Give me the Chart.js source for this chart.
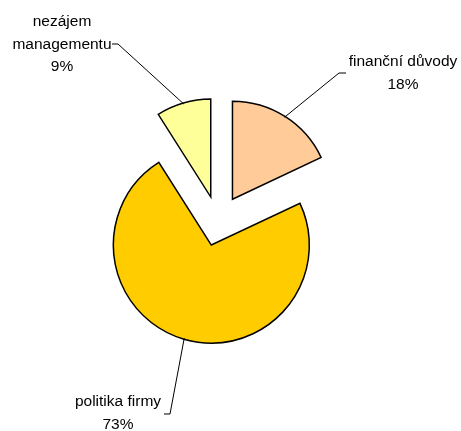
<!DOCTYPE html>
<html>
<head>
<meta charset="utf-8">
<script src="https://cdn.jsdelivr.net/npm/chart.js@4/dist/chart.umd.min.js"></script>
<style>
  html, body { margin: 0; padding: 0; background: #fff; }
  #wrap { width: 461px; height: 431px; }
</style>
</head>
<body>
<div id="wrap"><canvas id="pie"></canvas></div>
<script>
// Reasons, share in percent
const labels = ['finanční důvody', 'politika firmy', 'nezájem managementu'];
const values = [18, 73, 9];
const labelLines = [['finanční důvody', '18%'], ['politika firmy', '73%'], ['nezájem', 'managementu', '9%']];

const colors = ['#FFCC99', '#FFCC00', '#FFFF99'];
const explode = [27, 24, 26];

// where each label block sits and where its leader line bends
const labelStyle = [
  { x: 403, y: 62, elbow: [[346, 73], [339, 73]] },
  { x: 118, y: 402, elbow: [[164, 414], [170, 414]] },
  { x: 62, y: 22, elbow: [[112, 44], [118, 44]] }
];

function midAngle(arc) {
  const p = arc.getProps(['startAngle', 'endAngle'], true);
  return (p.startAngle + p.endAngle) / 2;
}

// pull every slice out from the centre along its middle angle
const explodedSlices = {
  id: 'explodedSlices',
  beforeDatasetsDraw(chart) {
    const ctx = chart.ctx;
    chart.getDatasetMeta(0).data.forEach((arc, i) => {
      const mid = midAngle(arc);
      ctx.save();
      ctx.translate(Math.cos(mid) * explode[i], Math.sin(mid) * explode[i]);
      arc.draw(ctx);
      ctx.restore();
    });
    return false;
  }
};

// labels with leader lines to the middle of each slice's rim
const pieLabels = {
  id: 'pieLabels',
  afterDraw(chart) {
    const ctx = chart.ctx;
    const meta = chart.getDatasetMeta(0);
    ctx.save();
    ctx.font = '15.5px "Liberation Sans", Arial, sans-serif';
    ctx.fillStyle = '#000';
    ctx.textAlign = 'center';
    ctx.textBaseline = 'middle';
    meta.data.forEach((arc, i) => {
      const p = arc.getProps(['x', 'y', 'outerRadius'], true);
      const mid = midAngle(arc);
      const r = explode[i] + p.outerRadius - 1;
      const ax = p.x + Math.cos(mid) * r;
      const ay = p.y + Math.sin(mid) * r;
      const s = labelStyle[i];
      ctx.strokeStyle = '#000';
      ctx.lineWidth = 1;
      ctx.beginPath();
      ctx.moveTo(s.elbow[0][0], s.elbow[0][1]);
      ctx.lineTo(s.elbow[1][0], s.elbow[1][1]);
      ctx.lineTo(ax, ay);
      ctx.stroke();
      labelLines[i].forEach((t, k) => {
        ctx.fillText(t, s.x, s.y + k * 22.5);
      });
    });
    ctx.restore();
  }
};

new Chart(document.getElementById('pie'), {
  type: 'pie',
  data: {
    labels: labels,
    datasets: [{
      data: values,
      backgroundColor: colors,
      borderColor: '#000',
      borderWidth: 1.5,
      borderJoinStyle: 'miter'
    }]
  },
  options: {
    responsive: true,
    maintainAspectRatio: false,
    animation: false,
    radius: 98,
    layout: { padding: { left: 0, right: 25, top: 13, bottom: 0 } },
    plugins: {
      legend: { display: false },
      tooltip: { enabled: false }
    }
  },
  plugins: [explodedSlices, pieLabels]
});
</script>
</body>
</html>
